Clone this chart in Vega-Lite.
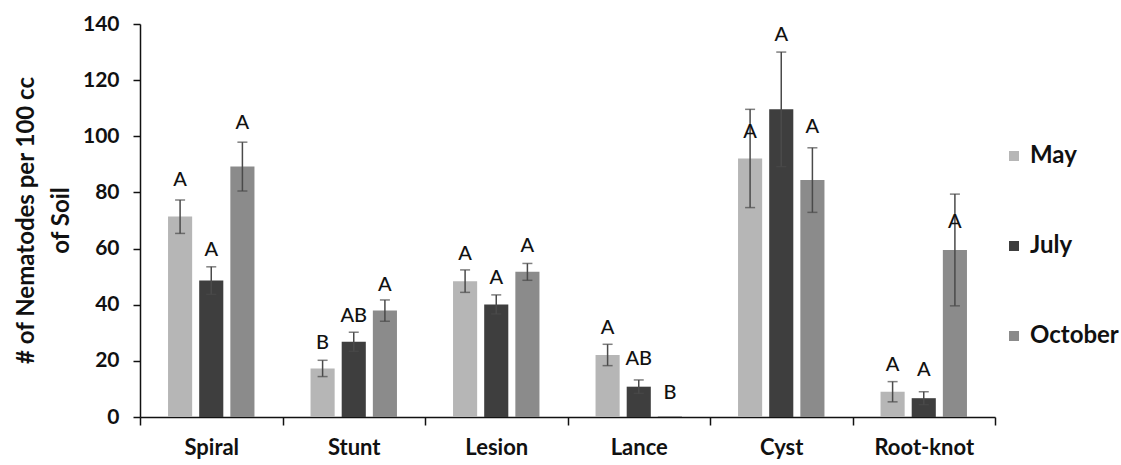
{
  "$schema": "https://vega.github.io/schema/vega-lite/v6.json",
  "autosize": "none",
  "padding": {"left": 140, "top": 24, "right": 126, "bottom": 48},
  "width": 855,
  "height": 393,
  "background": "white",
  "config": {
    "view": {"stroke": null},
    "font": "Lato",
    "axis": {"domainColor": "#111", "tickColor": "#111", "domainWidth": 1.5, "tickWidth": 1.5, "grid": false, "labelColor": "#111", "titleColor": "#111"}
  },
  "data": {
    "values": [
      {"type": "Spiral", "month": "May", "value": 71.4, "lo": 65.4, "hi": 77.3, "letter": "A", "label_y": 84.4},
      {"type": "Spiral", "month": "July", "value": 48.6, "lo": 43.7, "hi": 53.5, "letter": "A", "label_y": 59.5},
      {"type": "Spiral", "month": "October", "value": 89.2, "lo": 80.5, "hi": 97.9, "letter": "A", "label_y": 104.6},
      {"type": "Stunt", "month": "May", "value": 17.3, "lo": 14.4, "hi": 20.2, "letter": "B", "label_y": 26.5},
      {"type": "Stunt", "month": "July", "value": 26.8, "lo": 23.4, "hi": 30.2, "letter": "AB", "label_y": 36},
      {"type": "Stunt", "month": "October", "value": 37.9, "lo": 34.1, "hi": 41.7, "letter": "A", "label_y": 47},
      {"type": "Lesion", "month": "May", "value": 48.4, "lo": 44.4, "hi": 52.4, "letter": "A", "label_y": 58},
      {"type": "Lesion", "month": "July", "value": 40.1, "lo": 36.7, "hi": 43.5, "letter": "A", "label_y": 49.5},
      {"type": "Lesion", "month": "October", "value": 51.7, "lo": 48.7, "hi": 54.7, "letter": "A", "label_y": 61},
      {"type": "Lance", "month": "May", "value": 22.1, "lo": 18.3, "hi": 25.9, "letter": "A", "label_y": 31.7},
      {"type": "Lance", "month": "July", "value": 10.8, "lo": 8.4, "hi": 13.2, "letter": "AB", "label_y": 20.5},
      {"type": "Lance", "month": "October", "value": 0.3, "lo": null, "hi": null, "letter": "B", "label_y": 8.7},
      {"type": "Cyst", "month": "May", "value": 92.1, "lo": 74.6, "hi": 109.6, "letter": "A", "label_y": 101.6},
      {"type": "Cyst", "month": "July", "value": 109.6, "lo": 89.2, "hi": 130, "letter": "A", "label_y": 136},
      {"type": "Cyst", "month": "October", "value": 84.4, "lo": 72.9, "hi": 95.9, "letter": "A", "label_y": 103.4},
      {"type": "Root-knot", "month": "May", "value": 9, "lo": 5.4, "hi": 12.6, "letter": "A", "label_y": 18.5},
      {"type": "Root-knot", "month": "July", "value": 6.7, "lo": 4.4, "hi": 9, "letter": "A", "label_y": 16.7},
      {"type": "Root-knot", "month": "October", "value": 59.5, "lo": 39.6, "hi": 79.4, "letter": "A", "label_y": 69.6}
    ]
  },
  "encoding": {
    "x": {
      "field": "type", "type": "nominal", "sort": null,
      "scale": {"paddingInner": 0, "paddingOuter": 0},
      "axis": {"title": null, "labelAngle": 0, "tickBand": "extent", "tickSize": 8, "labelPadding": 12, "labelFontSize": 22, "labelFontWeight": "bold"}
    },
    "xOffset": {
      "field": "month", "type": "nominal", "sort": ["May", "July", "October"],
      "scale": {"paddingInner": 0.226, "paddingOuter": 0.9}
    }
  },
  "layer": [
    {
      "mark": {"type": "bar"},
      "encoding": {
        "y": {
          "field": "value", "type": "quantitative",
          "scale": {"domain": [0, 140], "nice": false},
          "axis": {
            "values": [0, 20, 40, 60, 80, 100, 120, 140],
            "tickSize": 7, "labelPadding": 14, "labelFontSize": 21, "labelFontWeight": "bold",
            "title": ["# of Nematodes per 100 cc", "of Soil"],
            "titleFontSize": 24, "titleFontWeight": "bold", "titleLineHeight": 35,
            "titleAngle": 270, "titleBaseline": "top", "titleAlign": "center",
            "titleX": -126, "titleY": 196
          }
        },
        "color": {
          "field": "month", "type": "nominal",
          "scale": {"domain": ["May", "July", "October"], "range": ["#b6b6b6", "#3e3e3e", "#8b8b8b"]},
          "legend": {
            "title": null, "orient": "none", "legendX": 862, "legendY": 120,
            "symbolType": "square", "symbolSize": 100, "symbolStrokeWidth": 0,
            "labelFontSize": 24, "labelFontWeight": "bold", "labelColor": "#111",
            "rowPadding": 66, "labelOffset": 4, "labelLimit": 200
          }
        }
      }
    },
    {
      "mark": {"type": "rule", "color": "#4a4a4a", "strokeWidth": 1.5},
      "encoding": {
        "y": {"field": "lo", "type": "quantitative"},
        "y2": {"field": "hi"}
      }
    },
    {
      "mark": {"type": "tick", "color": "#4a4a4a", "thickness": 1.5, "size": 10, "orient": "horizontal"},
      "encoding": {"y": {"field": "lo", "type": "quantitative"}}
    },
    {
      "mark": {"type": "tick", "color": "#4a4a4a", "thickness": 1.5, "size": 10, "orient": "horizontal"},
      "encoding": {"y": {"field": "hi", "type": "quantitative"}}
    },
    {
      "mark": {"type": "text", "fontSize": 20, "fontWeight": 500, "color": "#111", "baseline": "middle", "align": "center"},
      "encoding": {
        "y": {"field": "label_y", "type": "quantitative"},
        "text": {"field": "letter"}
      }
    }
  ]
}
